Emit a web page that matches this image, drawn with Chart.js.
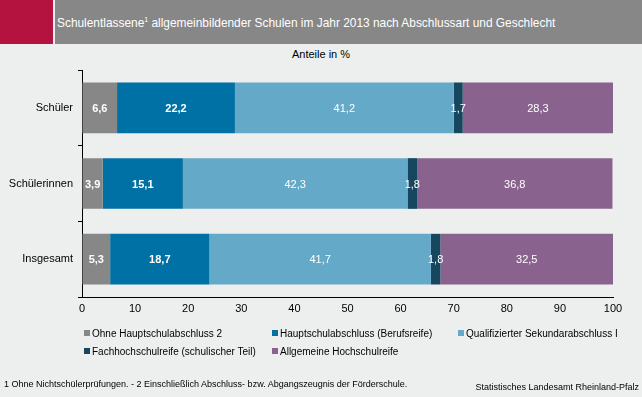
<!DOCTYPE html>
<html>
<head>
<meta charset="utf-8">
<script src="https://cdn.jsdelivr.net/npm/chart.js@4.4.1/dist/chart.umd.min.js"></script>
<style>
  html, body { margin: 0; padding: 0; }
  body { width: 642px; height: 397px; background: #edefee; position: relative; overflow: hidden;
         font-family: "Liberation Sans", Arial, sans-serif; color: #000; }
  #red { position: absolute; left: 0; top: 0; width: 53px; height: 44px; background: #b5133f; }
  #band { position: absolute; left: 55px; top: 0; width: 587px; height: 44px; background: #878787; }
  #title { position: absolute; left: 57px; top: 16px; font-size: 11.9px; color: #fff; white-space: nowrap; }
  #title sup { font-size: 7px; vertical-align: 5px; }
  #unit { position: absolute; left: 0; width: 642px; top: 48px; text-align: center; font-size: 11px; }
  #chartBox { position: absolute; left: 0; top: 0; width: 642px; height: 397px; }
  .leg { position: absolute; font-size: 10px; white-space: nowrap; line-height: 12px; }
  .leg i { display: inline-block; width: 6px; height: 6px; margin-right: 2px; vertical-align: 1px; }
  .foot { position: absolute; font-size: 9px; line-height: 12px; white-space: nowrap; }
</style>
</head>
<body>
<div id="red"></div>
<div id="band"></div>
<div id="title">Schulentlassene<sup>1</sup> allgemeinbildender Schulen im Jahr 2013 nach Abschlussart und Geschlecht</div>
<div id="unit">Anteile in %</div>
<div id="chartBox"><canvas id="myChart" width="642" height="397"></canvas></div>
<div id="legend"></div>
<div class="foot" style="left:4px; top:378px;">1 Ohne Nichtschülerprüfungen. - 2 Einschließlich Abschluss- bzw. Abgangszeugnis der Förderschule.</div>
<div class="foot" style="right:3px; top:381px;">Statistisches Landesamt Rheinland-Pfalz</div>
<script>
const categories = ['Schüler', 'Schülerinnen', 'Insgesamt'];
const seriesNames = [
  'Ohne Hauptschulabschluss 2',
  'Hauptschulabschluss (Berufsreife)',
  'Qualifizierter Sekundarabschluss I',
  'Fachhochschulreife (schulischer Teil)',
  'Allgemeine Hochschulreife'
];
const ohneAbschluss = [6.6, 3.9, 5.3];
const hauptschule = [22.2, 15.1, 18.7];
const sekundarI = [41.2, 42.3, 41.7];
const fachhochschulreife = [1.7, 1.8, 1.8];
const hochschulreife = [28.3, 36.8, 32.5];
const xTicks = [0, 10, 20, 30, 40, 50, 60, 70, 80, 90, 100];

const colors = ['#878787', '#0071a4', '#64a9c8', '#17465f', '#89638e'];
const boldLabels = [true, true, false, false, false];
const values = [ohneAbschluss, hauptschule, sekundarI, fachhochschulreife, hochschulreife];

// legend in a fixed grid like the original
const legendPos = [[84, 328], [272, 328], [458, 328], [84, 346], [272, 346]];
const legendBox = document.getElementById('legend');
seriesNames.forEach((name, i) => {
  const d = document.createElement('div');
  d.className = 'leg';
  d.style.left = legendPos[i][0] + 'px';
  d.style.top = legendPos[i][1] + 'px';
  d.innerHTML = `<i style="background:${colors[i]}"></i>${name}`;
  legendBox.appendChild(d);
});

// value labels inside the bars
const barLabels = {
  id: 'barLabels',
  afterDatasetsDraw(chart) {
    const ctx = chart.ctx;
    ctx.save();
    ctx.textAlign = 'center';
    ctx.textBaseline = 'middle';
    ctx.fillStyle = '#fff';
    chart.data.datasets.forEach((ds, i) => {
      ctx.font = (boldLabels[i] ? 'bold ' : '') + '11px "Liberation Sans", Arial, sans-serif';
      chart.getDatasetMeta(i).data.forEach((bar, j) => {
        const txt = ds.data[j].toFixed(1).replace('.', ',');
        ctx.fillText(txt, (bar.x + bar.base) / 2, bar.y + 1);
      });
    });
    ctx.restore();
  }
};

const ctx = document.getElementById('myChart').getContext('2d');
new Chart(ctx, {
  type: 'bar',
  data: {
    labels: categories,
    datasets: seriesNames.map((name, i) => ({
      label: name,
      data: values[i],
      backgroundColor: colors[i],
      borderWidth: 0,
      barPercentage: 0.67,
      categoryPercentage: 1
    }))
  },
  options: {
    indexAxis: 'y',
    responsive: false,
    animation: false,
    layout: { padding: { top: 70, right: 29, left: 0, bottom: 78 } },
    plugins: { legend: { display: false }, tooltip: { enabled: false } },
    scales: {
      x: {
        stacked: true,
        min: 0,
        max: 100,
        afterBuildTicks: (scale) => { scale.ticks = xTicks.map(v => ({ value: v })); },
        afterFit: (scale) => { scale.height = 22; },
        ticks: { color: '#000', padding: 5, font: { size: 11, family: '"Liberation Sans", Arial, sans-serif' } },
        grid: { drawOnChartArea: false, drawTicks: false },
        border: { color: '#000', width: 1 }
      },
      y: {
        stacked: true,
        afterFit: (scale) => { scale.width = 82; },
        ticks: { color: '#000', padding: 5, font: { size: 11, family: '"Liberation Sans", Arial, sans-serif' } },
        grid: { offset: true, drawOnChartArea: false, tickLength: 4, color: '#000' },
        border: { color: '#000', width: 1 }
      }
    }
  },
  plugins: [barLabels]
});
</script>
</body>
</html>
